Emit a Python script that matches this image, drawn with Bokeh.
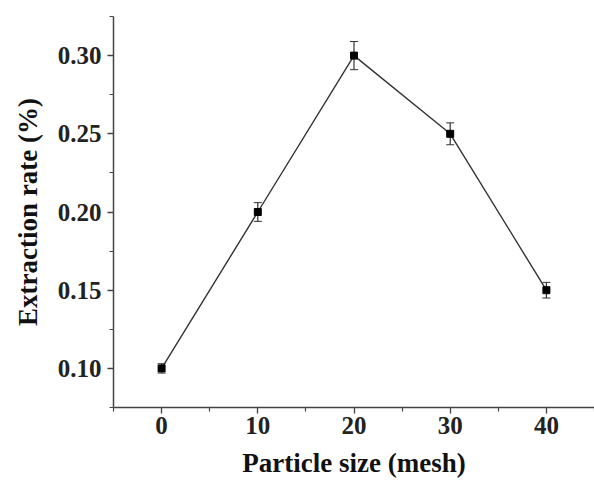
from bokeh.plotting import figure
from bokeh.models import FixedTicker, Range1d, Whisker, ColumnDataSource, CustomJSTickFormatter
from bokeh.embed import file_html
from bokeh.resources import INLINE

particle_size = [0, 10, 20, 30, 40]
extraction_rate = [0.10, 0.20, 0.30, 0.25, 0.15]
error = [0.003, 0.006, 0.009, 0.007, 0.005]
x_ticks = [0, 10, 20, 30, 40]
x_minor = [-5, 5, 15, 25, 35, 45]
y_ticks = [0.10, 0.15, 0.20, 0.25, 0.30]
y_minor = [0.075, 0.125, 0.175, 0.225, 0.275, 0.325]

upper = [v + e for v, e in zip(extraction_rate, error)]
lower = [v - e for v, e in zip(extraction_rate, error)]
src = ColumnDataSource(dict(x=particle_size, y=extraction_rate, upper=upper, lower=lower))

p = figure(width=594, height=480, output_backend="svg", toolbar_location=None,
           x_range=Range1d(-5, 45), y_range=Range1d(0.075, 0.325),
           min_border_left=113, min_border_right=0, min_border_top=16, min_border_bottom=73)
p.grid.visible = False
p.outline_line_color = None
p.background_fill_color = "white"

p.line("x", "y", source=src, line_color="#333333", line_width=1.4)
w = Whisker(source=src, base="x", upper="upper", lower="lower", line_color="#333333",
            line_width=1.2)
w.upper_head.size = 8
w.lower_head.size = 8
w.upper_head.line_color = "#333333"
w.lower_head.line_color = "#333333"
p.add_layout(w)
p.scatter("x", "y", source=src, marker="square", size=7, color="black")

for ax in (p.xaxis[0], p.yaxis[0]):
    ax.axis_line_color = "#444444"
    ax.axis_line_width = 1.5
    ax.major_tick_line_color = "#444444"
    ax.minor_tick_line_color = "#444444"
    ax.major_tick_line_width = 1.3
    ax.minor_tick_line_width = 1.2
    ax.major_tick_out = 6
    ax.major_tick_in = 0
    ax.minor_tick_out = 4
    ax.minor_tick_in = 0
    ax.major_label_text_font = "Liberation Serif"
    ax.major_label_text_font_style = "bold"
    ax.major_label_text_font_size = "25px"
    ax.major_label_text_color = "#222222"
    ax.axis_label_text_font = "Liberation Serif"
    ax.axis_label_text_font_style = "bold"
    ax.axis_label_text_font_size = "27px"
    ax.axis_label_text_color = "#111111"

p.xaxis[0].ticker = FixedTicker(ticks=x_ticks, minor_ticks=x_minor)
p.yaxis[0].ticker = FixedTicker(ticks=y_ticks, minor_ticks=y_minor)
p.yaxis[0].formatter = CustomJSTickFormatter(code="return tick.toFixed(2);")
p.xaxis.axis_label = "Particle size (mesh)"
p.yaxis.axis_label = "Extraction rate (%)"
p.xaxis[0].major_label_standoff = 3
p.yaxis[0].major_label_standoff = 6
p.xaxis[0].axis_label_standoff = 11
p.yaxis[0].axis_label_standoff = 12

open("out.html", "w").write(file_html(p, INLINE))
